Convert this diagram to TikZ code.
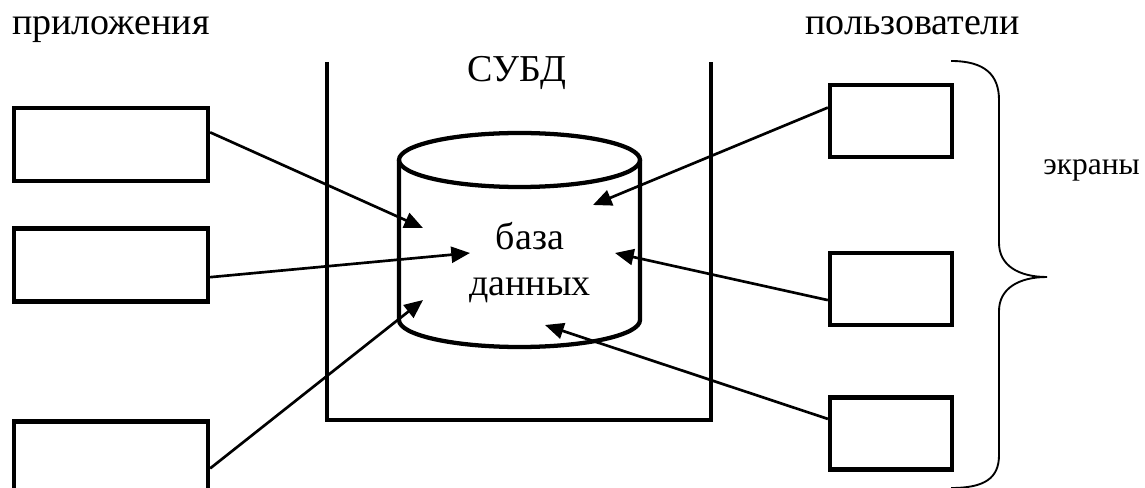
\documentclass[tikz,border=0pt]{standalone}
\usepackage{fontspec}
\setmainfont{Liberation Serif}
\usepackage{tikz}
\usetikzlibrary{arrows.meta,positioning}

\begin{document}
\begin{tikzpicture}[
  x=0.75pt, y=0.75pt,
  app/.style={rectangle, draw, line width=3.2pt, minimum width=145.5pt,
              minimum height=54.75pt, inner sep=0pt},
  screen/.style={rectangle, draw, line width=3.2pt, minimum width=91.5pt,
                 minimum height=54pt, inner sep=0pt},
  label/.style={inner sep=0pt, font=\fontsize{28.5}{33.75}\selectfont},
  wall/.style={line width=3.2pt},
  flow/.style={-{Triangle[length=14pt, width=12pt]}, line width=2pt},
  brace/.style={line width=1.4pt},
]
  \useasboundingbox (0,0) rectangle (1145,-488);

  % Titles
  \node[label, anchor=base west] (apps) at (12,-35) {приложения};
  \node[label, anchor=base west] (users) at (805,-35) {пользователи};
  \node[label, anchor=base] (dbms) at (517,-82) {СУБД};

  % DBMS container
  \draw[wall] (327,-62) -- (327,-420) -- (711,-420) -- (711,-62);

  % Database
  \draw[wall] (399,-160) -- (399,-320)
    arc[start angle=180, end angle=360, x radius=120.5, y radius=27] -- (640,-160);
  \draw[wall] (519.5,-160) ellipse [x radius=120.5, y radius=27];
  \node[label, align=center, anchor=base] (db) at (530,-295) {база\\данных};

  % Applications
  \node[app] (app1) at (111,-144.5) {};
  \node[app] (app2) at (111,-265) {};
  \node[app] (app3) at (111,-458) {};

  % Screens
  \node[screen] (scr1) at (891,-121) {};
  \node[screen] (scr2) at (891,-289) {};
  \node[screen] (scr3) at (891,-433.5) {};

  % Arrow ends
  \coordinate (in1) at (423,-228);
  \coordinate (in2) at (470,-253);
  \coordinate (in3) at (423,-300);
  \coordinate (in4) at (593,-205);
  \coordinate (in5) at (615,-253);
  \coordinate (in6) at (545,-325);

  % Connections
  \draw[flow] (app1.7) -- (in1);
  \draw[flow] (app2.-7) -- (in2);
  \draw[flow] (app3.-6) -- (in3);
  \draw[flow] (scr1.168) -- (in4);
  \draw[flow] (scr2.190) -- (in5);
  \draw[flow] (scr3.167) -- (in6);

  % Brace
  \draw[brace] (951,-61) .. controls (985,-61) and (999,-75) .. (999,-100)
    -- (999,-243) .. controls (999,-265) and (1018,-277) .. (1047,-277)
    .. controls (1018,-277) and (999,-289) .. (999,-311)
    -- (999,-455) .. controls (999,-478) and (985,-488) .. (951,-488);
  \node[label, anchor=base west, font=\fontsize{23.6}{28}\selectfont] (scr) at (1043,-175) {экраны};

\end{tikzpicture}
\end{document}
